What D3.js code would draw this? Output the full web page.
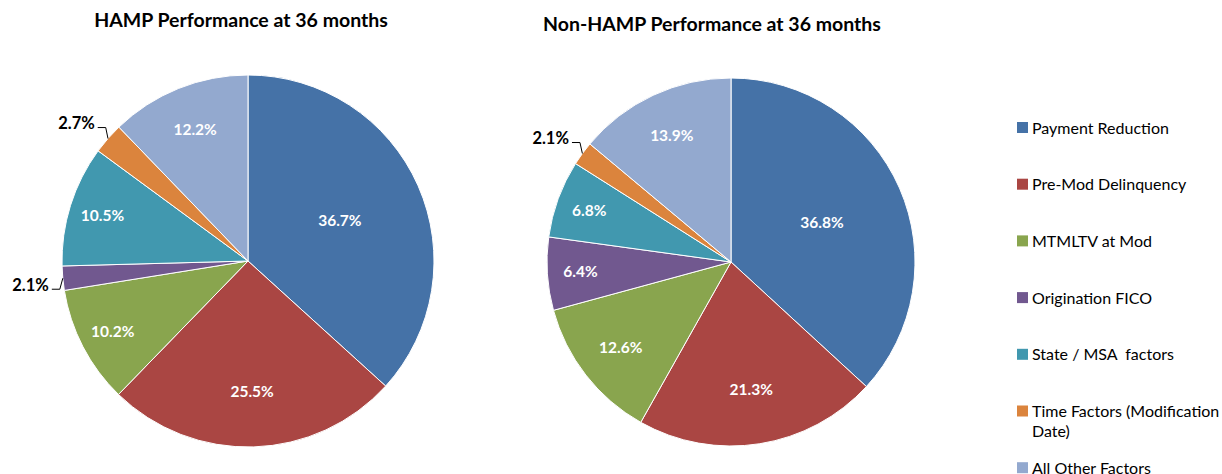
<!DOCTYPE html>
<html>
<head>
<meta charset="utf-8">
<script src="https://cdn.jsdelivr.net/npm/d3@7"></script>
<style>
  body { margin: 0; background: #fff; }
  svg { display: block; font-family: Lato, "Open Sans", sans-serif; }
  .title { font-weight: bold; font-size: 19.5px; fill: #000; }
  .pct { font-weight: bold; font-size: 15.5px; }
  .legend text { font-size: 16px; fill: #000; white-space: pre; }
</style>
</head>
<body>
<svg id="chart"></svg>
<script>
'use strict'

// categories / series
const categories = ['Payment Reduction', 'Pre-Mod Delinquency', 'MTMLTV at Mod', 'Origination FICO',
  'State / MSA  factors', 'Time Factors (Modification Date)', 'All Other Factors']
const hampValues = [36.7, 25.5, 10.2, 2.1, 10.5, 2.7, 12.2]
const nonHampValues = [36.8, 21.3, 12.6, 6.4, 6.8, 2.1, 13.9]
const titles = ['HAMP Performance at 36 months', 'Non-HAMP Performance at 36 months']
const colors = ['#4572A7', '#AA4643', '#89A54E', '#71588F', '#4198AF', '#DB843D', '#93A9CF']

const width = 1222, height = 474
const svg = d3.select('#chart').attr('width', width).attr('height', height)

const color = d3.scaleOrdinal().domain(categories).range(colors)
const pie = d3.pie().sort(null).value(d => d.value)

// one pie per series
const pies = [
  {values: hampValues, title: titles[0], cx: 248, cy: 261, r: 186, tx: 241, ty: 27},
  {values: nonHampValues, title: titles[1], cx: 731, cy: 262, r: 184, tx: 712, ty: 31}
]

pies.forEach(p => {
  svg.append('text')
    .attr('class', 'title')
    .attr('x', p.tx)
    .attr('y', p.ty)
    .attr('text-anchor', 'middle')
    .text(p.title)

  const g = svg.append('g').attr('transform', 'translate(' + p.cx + ',' + p.cy + ')')
  const arcs = pie(p.values.map((v, i) => ({name: categories[i], value: v})))
  const arc = d3.arc().innerRadius(0).outerRadius(p.r)

  g.selectAll('path')
    .data(arcs)
    .enter().append('path')
      .attr('d', arc)
      .attr('fill', d => color(d.data.name))
      .attr('stroke', '#fff')
      .attr('stroke-width', 1)

  const mid = d => (d.startAngle + d.endAngle) / 2
  const small = d => d.data.value < 3

  // inside labels: big slices sit closer to the centre
  g.selectAll('text.in')
    .data(arcs.filter(d => !small(d)))
    .enter().append('text')
      .attr('class', 'pct')
      .attr('fill', '#fff')
      .attr('text-anchor', 'middle')
      .attr('dy', '0.35em')
      .attr('transform', d => {
        const v = d.data.value
        const k = v > 30 ? 0.54 : v > 20 ? 0.7 : v > 12 ? 0.76 : 0.82
        const a = mid(d)
        return 'translate(' + (Math.sin(a) * p.r * k) + ',' + (-Math.cos(a) * p.r * k) + ')'
      })
      .text(d => d.data.value.toFixed(1) + '%')

  // outside labels with leader lines
  arcs.filter(small).forEach(d => {
    const a = mid(d)
    const edge = [Math.sin(a) * p.r, -Math.cos(a) * p.r]
    const elbow = [edge[0] + Math.sin(a) * 3, edge[1] + Math.sign(edge[1]) * 11]
    const end = [elbow[0] - 8, elbow[1]]
    g.append('polyline')
      .attr('points', [edge, elbow, end].map(q => q.join(',')).join(' '))
      .attr('fill', 'none')
      .attr('stroke', '#000')
      .attr('stroke-width', 1)
    g.append('text')
      .attr('class', 'pct')
      .attr('fill', '#000')
      .attr('text-anchor', 'end')
      .attr('x', end[0] - 3)
      .attr('y', end[1] + 1.5)
      .style('font-size', '16.5px')
      .text(d.data.value.toFixed(1) + '%')
  })
})

// legend
const legend = svg.append('g').attr('class', 'legend').attr('transform', 'translate(1017,0)')
const row = legend.selectAll('g')
    .data(categories)
  .enter().append('g')
    .attr('transform', (d, i) => 'translate(0,' + (128 + i * 56.7) + ')')

row.append('rect')
  .attr('x', 0).attr('y', -6)
  .attr('width', 11).attr('height', 11)
  .attr('fill', d => color(d))

row.append('text')
  .attr('x', 15)
  .each(function (d) {
    const t = d3.select(this)
    // wrap the long category onto two lines
    const parts = d === categories[5] ? ['Time Factors (Modification', 'Date)'] : [d]
    parts.forEach((s, j) => {
      t.append('tspan').attr('x', 15).attr('dy', j === 0 ? '0.35em' : 20).text(s)
    })
  })
</script>
</body>
</html>
